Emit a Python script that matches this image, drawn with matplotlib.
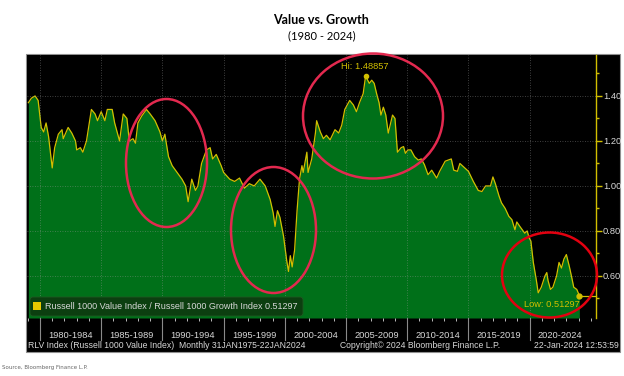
import numpy as np
import matplotlib
matplotlib.use("Agg")
import matplotlib.pyplot as plt
from matplotlib.patches import Ellipse, Rectangle, FancyBboxPatch

# Russell 1000 Value / Russell 1000 Growth ratio
years = [1979.05, 1979.3, 1979.6, 1979.85, 1980.1, 1980.3, 1980.5, 1980.7, 1981.0, 1981.2,
         1981.5, 1981.8, 1981.9, 1982.3, 1982.6, 1982.9, 1983.0, 1983.3, 1983.5, 1983.8,
         1984.2, 1984.5, 1984.7, 1985.0, 1985.3, 1985.5, 1985.9, 1986.1, 1986.5, 1986.8,
         1987.1, 1987.3, 1987.6, 1987.8, 1988.0, 1988.3, 1988.7, 1989.0, 1989.4, 1989.8,
         1990.0, 1990.2, 1990.5, 1990.8, 1991.2, 1991.6, 1991.9, 1992.1, 1992.4, 1992.7,
         1992.9, 1993.2, 1993.6, 1993.9, 1994.1, 1994.4, 1994.6, 1994.8, 1995.0, 1995.5,
         1995.9, 1996.3, 1996.7, 1997.1, 1997.5, 1997.97, 1998.4, 1998.8, 1999.05, 1999.2,
         1999.4, 1999.6, 1999.9, 2000.15, 2000.3, 2000.45, 2000.6, 2000.8, 2001.0, 2001.2,
         2001.4, 2001.5, 2001.8, 2001.9, 2002.2, 2002.5, 2002.6, 2002.9, 2003.15, 2003.4,
         2003.7, 2004.1, 2004.4, 2004.65, 2004.9, 2005.3, 2005.6, 2005.85, 2006.1, 2006.4,
         2006.6, 2006.9, 2007.1, 2007.3, 2007.5, 2007.7, 2007.85, 2008.05, 2008.25, 2008.45,
         2008.8, 2009.0, 2009.2, 2009.5, 2009.7, 2009.85, 2010.05, 2010.3, 2010.6, 2010.9,
         2011.15, 2011.4, 2011.7, 2012.0, 2012.4, 2012.65, 2013.1, 2013.35, 2013.6, 2013.8,
         2014.1, 2014.3, 2014.6, 2015.0, 2015.4, 2015.8, 2016.1, 2016.4, 2016.8, 2017.0,
         2017.2, 2017.5, 2017.7, 2018.0, 2018.3, 2018.55, 2018.8, 2018.95, 2019.2, 2019.6,
         2019.8, 2019.95, 2020.1, 2020.3, 2020.55, 2020.7, 2020.95, 2021.25, 2021.4, 2021.5,
         2021.7, 2021.9, 2022.2, 2022.4, 2022.6, 2022.8, 2023.0, 2023.25, 2023.45, 2023.6,
         2023.85, 2024.06]
ratio = [1.37, 1.39, 1.40, 1.38, 1.26, 1.24, 1.28, 1.22, 1.08, 1.17,
         1.23, 1.25, 1.21, 1.26, 1.235, 1.20, 1.16, 1.17, 1.15, 1.20,
         1.34, 1.32, 1.29, 1.33, 1.29, 1.34, 1.34, 1.28, 1.20, 1.32,
         1.30, 1.20, 1.21, 1.19, 1.28, 1.31, 1.34, 1.32, 1.29, 1.24,
         1.20, 1.23, 1.13, 1.09, 1.06, 1.03, 1.00, 0.93, 1.03, 0.98,
         1.00, 1.10, 1.16, 1.17, 1.12, 1.14, 1.115, 1.09, 1.06, 1.03,
         1.02, 1.035, 0.99, 1.01, 1.00, 1.03, 1.00, 0.94, 0.88, 0.82,
         0.89, 0.86, 0.775, 0.67, 0.62, 0.69, 0.64, 0.715, 0.89, 1.03,
         1.09, 1.06, 1.15, 1.06, 1.12, 1.235, 1.29, 1.24, 1.21, 1.225,
         1.205, 1.25, 1.235, 1.27, 1.34, 1.38, 1.36, 1.33, 1.37, 1.41,
         1.48857, 1.456, 1.47, 1.456, 1.41, 1.37, 1.315, 1.35, 1.315, 1.235,
         1.315, 1.30, 1.15, 1.17, 1.175, 1.145, 1.16, 1.16, 1.13, 1.115,
         1.12, 1.095, 1.05, 1.07, 1.035, 1.065, 1.11, 1.115, 1.12, 1.07,
         1.065, 1.10, 1.085, 1.065, 1.02, 0.98, 0.975, 1.00, 1.00, 1.04,
         1.01, 0.955, 0.925, 0.90, 0.865, 0.85, 0.805, 0.84, 0.82, 0.79,
         0.80, 0.77, 0.755, 0.66, 0.58, 0.525, 0.55, 0.60, 0.615, 0.58,
         0.54, 0.55, 0.60, 0.66, 0.635, 0.675, 0.695, 0.64, 0.59, 0.55,
         0.54, 0.51297]

period_labels = ["1980-1984", "1985-1989", "1990-1994", "1995-1999", "2000-2004",
                 "2005-2009", "2010-2014", "2015-2019", "2020-2024"]
y_ticks = [0.60, 0.80, 1.00, 1.20, 1.40]

GREEN = "#007019"
LINE = "#d2bf00"
TXT = "#d8d8d8"
BB = "Liberation Sans"
FS = 6.2

W, H = 624, 376
fig = plt.figure(figsize=(W / 100, H / 100), dpi=100)
fig.patch.set_facecolor("white")

# background layer in pixel coords (black terminal panel)
bg = fig.add_axes([0, 0, 1, 1])
bg.set_xlim(0, W)
bg.set_ylim(H, 0)
bg.axis("off")
bg.add_patch(Rectangle((26, 54), 594, 298, facecolor="black", edgecolor="#909090", lw=0.8))

# main chart area
L, R, T, B = 27, 596, 55, 318
ax = fig.add_axes([L / W, 1 - B / H, (R - L) / W, (B - T) / H])
ax.set_facecolor("black")
x0, x1 = 1978.94, 2025.42
y0, y1 = 0.413, 1.582
ax.set_xlim(x0, x1)
ax.set_ylim(y0, y1)

ax.fill_between(years, ratio, y0, color=GREEN, lw=0, zorder=1)
ax.plot(years, ratio, color=LINE, lw=0.9, zorder=2)

# dotted grid
for yv in y_ticks:
    ax.axhline(yv, color="#9a9a9a", ls=(0, (1, 2)), lw=0.6, alpha=0.55, zorder=3)
for yr in range(1980, 2025, 5):
    ax.axvline(yr, color="#9a9a9a", ls=(0, (1, 2)), lw=0.6, alpha=0.55, zorder=3)
    ax.axvline(yr, ymin=-0.085, ymax=0, color="#8a8a8a", lw=0.8, clip_on=False)

for s in ["top", "left", "bottom"]:
    ax.spines[s].set_visible(False)
ax.spines["right"].set_color(LINE)
ax.spines["right"].set_linewidth(1)

ax.yaxis.tick_right()
ax.set_yticks(y_ticks)
ax.set_yticklabels([f"{v:.2f}" for v in y_ticks], color=TXT, fontsize=FS + 0.5, family=BB)
ax.set_yticks(np.arange(0.5, 1.6, 0.2), minor=True)
ax.tick_params(axis="y", which="major", colors=LINE, labelcolor=TXT, length=4, width=1, pad=1)
ax.tick_params(axis="y", which="minor", colors=LINE, length=2.5, width=1)

mids = [1982.5 + 5 * i for i in range(len(period_labels))]
ax.set_xticks(mids)
ax.set_xticklabels(period_labels, color=TXT, fontsize=FS + 0.5, family=BB)
ax.set_xticks(np.arange(1979, 2026, 1), minor=True)
ax.tick_params(axis="x", which="major", length=0, pad=9)
ax.tick_params(axis="x", which="minor", colors="#bbbbbb", length=2.5, width=0.7, direction="out")

# high and low markers
hi_i = int(np.argmax(ratio))
ax.plot(years[hi_i], ratio[hi_i], "o", color=LINE, ms=3, zorder=4)
ax.text(years[hi_i] - 0.1, ratio[hi_i] + 0.022, f"Hi: {ratio[hi_i]:.5f}", color=LINE,
        fontsize=FS + 0.5, family=BB, ha="center", va="bottom")
ax.plot(years[-1], ratio[-1], "o", color=LINE, ms=3.5, zorder=4)
ax.plot([years[-1], x1], [ratio[-1], ratio[-1]], color=LINE, lw=0.9, clip_on=False)
ax.text(years[-1], ratio[-1] - 0.022, f"Low: {ratio[-1]:.5f}", color=LINE,
        fontsize=FS + 0.5, family=BB, ha="right", va="top")

# top layer: legend, footer, ellipses, titles
ov = fig.add_axes([0, 0, 1, 1])
ov.set_xlim(0, W)
ov.set_ylim(H, 0)
ov.axis("off")
ov.patch.set_alpha(0)

ov.add_patch(FancyBboxPatch((30, 297), 273, 19, boxstyle="round,pad=0,rounding_size=3",
                            facecolor="#0c3f10", edgecolor="#1f5a22", lw=0.6))
ov.add_patch(Rectangle((33, 302), 8, 8, facecolor="#e8c800"))
ov.text(45, 306.5, f"Russell 1000 Value Index / Russell 1000 Growth Index {ratio[-1]:.5f}",
        color=TXT, fontsize=FS + 0.3, family=BB, va="center")

ov.text(28, 346, "RLV Index (Russell 1000 Value Index)  Monthly 31JAN1975-22JAN2024",
        color=TXT, fontsize=FS, family=BB, va="center")
ov.text(420, 346, "Copyright\u00a9 2024 Bloomberg Finance L.P.", color=TXT, fontsize=FS,
        family=BB, ha="center", va="center")
ov.text(619, 346, "22-Jan-2024 12:53:59", color=TXT, fontsize=FS, family=BB,
        ha="right", va="center")

ov.add_patch(Ellipse((166.5, 163), 81, 128, fill=False, edgecolor="#e3294f", lw=1.8))
ov.add_patch(Ellipse((273.5, 230), 85, 126, fill=False, edgecolor="#e3294f", lw=1.8))
ov.add_patch(Ellipse((373, 116), 140, 125, fill=False, edgecolor="#e3294f", lw=1.8))
ov.add_patch(Ellipse((549.5, 275), 95, 85, fill=False, edgecolor="#e30010", lw=1.8))

ov.text(321, 20, "Value vs. Growth", fontsize=9, fontweight="bold", family="Lato",
        ha="center", va="center", color="black")
ov.text(322, 36, "(1980 - 2024)", fontsize=8, family="Lato", ha="center", va="center",
        color="black")
ov.text(2, 367, "Source, Bloomberg Finance L.P.", fontsize=4, color="#666666", va="center")

fig.savefig("out.png", dpi=100)
